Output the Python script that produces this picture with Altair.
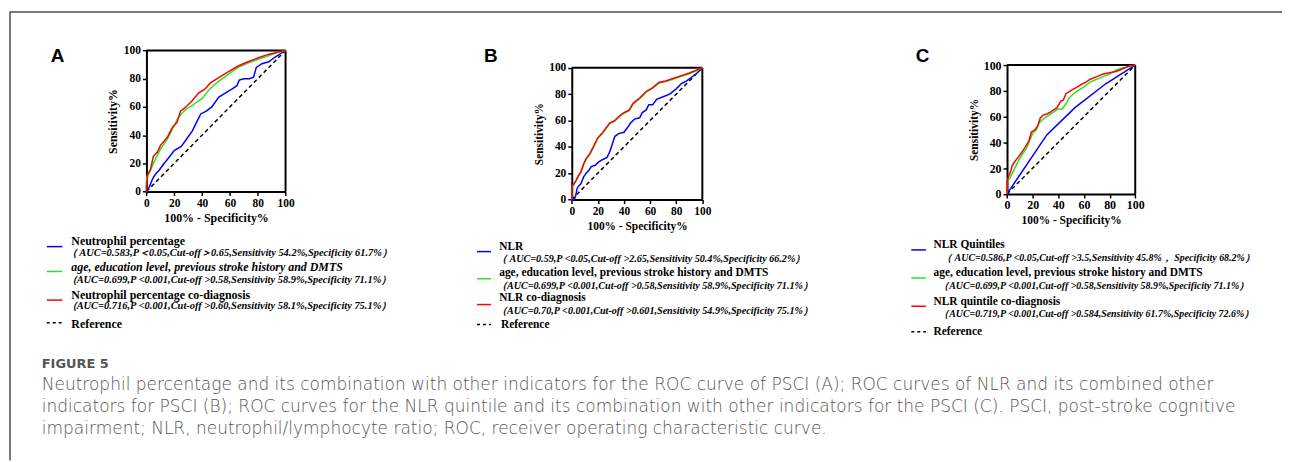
import altair as alt
import pandas as pd

# ---------------- data ----------------
TICKS = [0, 20, 40, 60, 80, 100]
REF_X = [0, 100]
REF_Y = [0, 100]

# Panel A
A_BLUE_X = [0, 2, 4, 5, 7, 9, 12, 16, 20, 25, 28, 33, 36, 39, 43, 47, 52, 57, 62, 65, 66.7, 70, 74, 77, 79, 83, 88, 92, 100]
A_BLUE_Y = [0, 3, 8, 10, 13, 15, 19, 24, 29, 32, 36, 43, 49, 55, 57, 60, 67, 70, 73, 75, 79, 80, 80, 81, 88, 90.6, 92, 95, 100]
A_GREEN_X = [0, 0, 0.5, 3, 5, 8, 10, 15, 19, 22, 25, 28, 33, 37, 40, 44, 48, 53, 60, 66, 73, 80, 87, 94, 100]
A_GREEN_Y = [0, 8, 11, 15, 20, 26, 30, 37, 45, 51, 55, 58, 61, 64, 66, 71, 75, 79, 84, 88, 91, 93.5, 96, 98.5, 100]
A_RED_X = [0, 0, 1, 3, 5, 7.9, 10, 15, 18.6, 22, 24.5, 28, 32.9, 37.6, 42, 46, 52, 59, 66, 73, 80.5, 87.6, 94.8, 100]
A_RED_Y = [0, 3, 12, 16, 25, 28, 32.6, 38.5, 45.5, 49, 57, 59.6, 64.3, 70, 72.5, 77, 80.8, 85, 89, 92, 94.8, 97.2, 99, 100]

# Panel B
B_BLUE_X = [0, 2, 3, 4, 5, 7, 9, 11, 13, 15, 18, 20, 23, 27, 29, 31, 33, 36, 40, 43, 45, 48, 52, 54, 57, 59, 62, 65, 70, 75, 80, 84, 88, 92, 96, 100]
B_BLUE_Y = [0, 0, 3, 8, 10, 12, 17, 20, 22, 25, 26, 28, 30, 32, 36, 42, 48, 50, 51, 55, 58, 61, 62, 66, 68, 72, 72, 76, 78, 80, 84, 88, 90, 93, 96, 100]
B_GREEN_X = [0, 0, 1, 3, 5, 7, 9, 11, 14, 17, 20, 23, 26, 29, 33, 36, 40, 44, 47, 52, 57, 62, 67, 72, 78, 84, 90, 95, 100]
B_GREEN_Y = [0, 9, 10.5, 13.5, 17.5, 20.5, 26, 30.5, 34.5, 40.5, 46.5, 49.5, 53.5, 57.5, 59.5, 62.5, 65.5, 67.5, 72.5, 76.5, 81.5, 84.5, 88.5, 89.5, 91.5, 93.5, 95.5, 97.5, 100]
B_RED_X = [0, 0, 1, 3, 5, 7, 9, 11, 14, 17, 20, 23, 26, 29, 33, 36, 40, 44, 47, 52, 57, 62, 67, 72, 78, 84, 90, 95, 100]
B_RED_Y = [0, 10, 11, 14, 18, 21, 27, 31, 35, 41, 47, 50, 54, 58, 60, 63, 66, 68, 73, 77, 82, 85, 89, 90, 92, 94, 96, 98, 100]

# Panel C
C_BLUE_X = [0, 31, 53, 77, 100]
C_BLUE_Y = [0, 45.8, 67, 85.5, 100]
C_GREEN_X = [0, 0, 2, 4, 6, 9, 12, 15, 18, 20, 23, 25, 28, 31, 34, 37, 40, 43, 46, 48, 51, 55, 60, 65, 70, 75, 80, 85, 90, 95, 100]
C_GREEN_Y = [0, 10, 12, 16, 20, 26, 31, 35, 42, 47, 50, 55, 58, 60, 62, 64, 66, 66, 70, 74, 77, 80, 83, 87, 89, 91, 93, 96, 98, 99, 100]
C_RED_X = [0, 0, 1, 3, 4, 6, 9, 12, 14, 17, 19, 22, 24, 25, 26, 28, 31, 33, 36, 39, 42, 44, 46, 48, 51, 55, 58, 62, 65, 70, 75, 80, 85, 90, 95, 100]
C_RED_Y = [0, 10, 13, 18, 22, 25, 29, 33, 36, 41, 48, 50, 53, 56, 59, 61, 62, 63, 65, 67, 72, 73, 78, 79, 81, 83, 85, 87, 89, 91, 93, 94, 95, 97, 99, 100]

# legend texts
A_MAIN = ["Neutrophil percentage", "age, education level, previous stroke history and DMTS",
          "Neutrophil percentage co-diagnosis", "Reference"]
A_SUB = ["（ AUC=0.583,P＜0.05,Cut-off＞0.65,Sensitivity 54.2%,Specificity 61.7%）",
         "（AUC=0.699,P <0.001,Cut-off >0.58,Sensitivity 58.9%,Specificity 71.1%）",
         "（AUC=0.716,P <0.001,Cut-off >0.60,Sensitivity 58.1%,Specificity 75.1%）"]
B_MAIN = ["NLR", "age, education level, previous stroke history and DMTS", "NLR co-diagnosis", "Reference"]
B_SUB = ["（ AUC=0.59,P <0.05,Cut-off >2.65,Sensitivity 50.4%,Specificity 66.2%）",
         "（AUC=0.699,P <0.001,Cut-off >0.58,Sensitivity 58.9%,Specificity 71.1%）",
         "（AUC=0.70,P <0.001,Cut-off >0.601,Sensitivity 54.9%,Specificity 75.1%）"]
C_MAIN = ["NLR Quintiles", "age, education level, previous stroke history and DMTS", "NLR quintile co-diagnosis", "Reference"]
C_SUB = ["（ AUC=0.586,P <0.05,Cut-off >3.5,Sensitivity 45.8%， Specificity 68.2%）",
         "（AUC=0.699,P <0.001,Cut-off >0.58,Sensitivity 58.9%,Specificity 71.1%）",
         "（AUC=0.719,P <0.001,Cut-off >0.584,Sensitivity 61.7%,Specificity 72.6%）"]

CAPTION_HEAD = "FIGURE 5"
CAPTION_LINES = [
    "Neutrophil percentage and its combination with other indicators for the ROC curve of PSCI (A); ROC curves of NLR and its combined other",
    "indicators for PSCI (B); ROC curves for the NLR quintile and its combination with other indicators for the PSCI (C). PSCI, post-stroke cognitive",
    "impairment; NLR, neutrophil/lymphocyte ratio; ROC, receiver operating characteristic curve.",
]

# ---------------- layout ----------------
W, H = 1282, 454
SERIF = "Liberation Serif"
BLUE, GREEN, RED = "#0000ff", "#22e622", "#ff0000"


def c(v):  # page pixel -> chart pixel
    return v - 8


def curve_df(xs, ys):
    return pd.DataFrame({"x": xs, "y": ys, "i": list(range(len(xs)))})


def panel(box, curves, lab_size, title_size, xtp, ytp):
    l, r, t, b = [c(v) for v in box]
    sx = alt.Scale(domain=[0, 100], range=[l, r], nice=False, zero=False)
    sy = alt.Scale(domain=[0, 100], range=[b, t], nice=False, zero=False)
    common = dict(values=TICKS, format="d", grid=False, domainColor="black", domainWidth=2,
                  tickColor="black", tickWidth=1.5, tickSize=4, labelFont=SERIF,
                  labelFontWeight="bold", labelFontSize=lab_size, labelColor="black",
                  labelPadding=2, labelFlush=False, labelOverlap=False, titleFont=SERIF,
                  titleFontWeight="bold", titleFontSize=title_size, titleColor="black")
    ax = alt.Axis(orient="bottom", offset=b - H, title="100% - Specificity%", titlePadding=xtp, **common)
    ay = alt.Axis(orient="left", offset=-l, title="Sensitivity%", titlePadding=ytp, **common)
    X = alt.X("x:Q", scale=sx, axis=ax)
    Y = alt.Y("y:Q", scale=sy, axis=ay)
    box_df = pd.DataFrame({"x": [0, 100], "x2": [100, 100], "y": [100, 0], "y2": [100, 100]})
    layers = [
        alt.Chart(box_df).mark_rule(color="black", strokeWidth=2).encode(x=X, x2="x2:Q", y=Y, y2="y2:Q"),
        alt.Chart(curve_df(REF_X, REF_Y)).mark_line(color="black", strokeDash=[4, 3], strokeWidth=1.5)
        .encode(x=X, y=Y, order="i:Q"),
    ]
    for xs, ys, col in curves:
        layers.append(alt.Chart(curve_df(xs, ys)).mark_line(color=col, strokeWidth=1.5)
                      .encode(x=X, y=Y, order="i:Q"))
    return alt.layer(*layers)


def texts(rows, size, weight="bold", style="normal", font=SERIF, color="black"):
    df = pd.DataFrame(rows, columns=["t", "px", "py"])
    df["px"] = df["px"].map(c)
    df["py"] = df["py"].map(c)
    return alt.Chart(df).mark_text(align="left", baseline="middle", font=font, fontSize=size,
                                   fontWeight=weight, fontStyle=style, color=color).encode(
        x=alt.X("px:Q", scale=None, axis=None), y=alt.Y("py:Q", scale=None, axis=None), text="t:N")


def swatches(rows, dashed=False):
    df = pd.DataFrame(rows, columns=["px", "px2", "py", "col"])
    for k in ["px", "px2", "py"]:
        df[k] = df[k].map(c)
    kw = dict(strokeWidth=1.5)
    if dashed:
        kw["strokeDash"] = [3, 3]
    return alt.Chart(df).mark_rule(**kw).encode(
        x=alt.X("px:Q", scale=None, axis=None), x2="px2:Q",
        y=alt.Y("py:Q", scale=None, axis=None), color=alt.Color("col:N", scale=None))


pA = panel((147.3, 287.3, 49.3, 191.3),
           [(A_BLUE_X, A_BLUE_Y, BLUE), (A_GREEN_X, A_GREEN_Y, GREEN), (A_RED_X, A_RED_Y, RED)],
           11.5, 12, 4, 4)
pB = panel((575.3, 706.7, 66.7, 199.3),
           [(B_BLUE_X, B_BLUE_Y, BLUE), (B_GREEN_X, B_GREEN_Y, GREEN), (B_RED_X, B_RED_Y, RED)],
           11.5, 11.5, 4, 4)
pC = panel((1013.3, 1142.3, 64, 193.7),
           [(C_BLUE_X, C_BLUE_Y, BLUE), (C_GREEN_X, C_GREEN_Y, GREEN), (C_RED_X, C_RED_Y, RED)],
           12, 11.5, 4, 4)

letters = texts([("A", 51, 55), ("B", 487, 55), ("C", 921.5, 54.5)], 19, font="Liberation Sans")

# legends
legA_main = texts([(A_MAIN[0], 71.7, 241), (A_MAIN[2], 71.7, 295), (A_MAIN[3], 71.7, 324.3)], 12)
legA_main_i = texts([(A_MAIN[1], 71.7, 267.7)], 12, style="italic")
legA_sub = texts([(A_SUB[0], 67, 253.3), (A_SUB[1], 67, 280), (A_SUB[2], 67, 306.7)], 10.5, style="italic")
swA = swatches([(47, 62.7, 246.7, BLUE), (47, 62.7, 271.7, GREEN), (47, 62.7, 300.5, RED)])
swA_d = swatches([(47, 63, 323.3, "black")], dashed=True)

legB_main = texts([(B_MAIN[0], 502.3, 246.7), (B_MAIN[1], 502.3, 273.3), (B_MAIN[2], 502.3, 298.3),
                   (B_MAIN[3], 504, 326)], 11.5)
legB_sub = texts([(B_SUB[0], 500, 259), (B_SUB[1], 500, 286), (B_SUB[2], 500, 311)], 10.2, style="italic")
swB = swatches([(480, 494, 251.7, BLUE), (480, 494, 279, GREEN), (480, 494, 305, RED)])
swB_d = swatches([(480, 494, 325, "black")], dashed=True)

legC_main = texts([(C_MAIN[0], 939.3, 245), (C_MAIN[1], 939.3, 273.3), (C_MAIN[2], 939.3, 302.3),
                   (C_MAIN[3], 939.3, 332.7)], 11.5)
legC_sub = texts([(C_SUB[0], 948, 258.3), (C_SUB[1], 945, 286), (C_SUB[2], 945, 315)], 10, style="italic")
swC = swatches([(917, 931.7, 250, BLUE), (917, 931.7, 278.3, GREEN), (917, 931.7, 306.7, RED)])
swC_d = swatches([(917, 931.7, 332.3, "black")], dashed=True)

# frame (top and left edges)
frame_df = pd.DataFrame({"px": [c(10), c(10)], "px2": [W, c(10)], "py": [c(10.5), c(10)], "py2": [c(10.5), H]})
frame = alt.Chart(frame_df).mark_rule(color="#4d4d4d", strokeWidth=1.5).encode(
    x=alt.X("px:Q", scale=None, axis=None), x2="px2:Q",
    y=alt.Y("py:Q", scale=None, axis=None), y2="py2:Q")

cap_head = texts([(CAPTION_HEAD, 42, 364.5)], 13, weight=600, font="DejaVu Sans", color="#555555")
cap_body = texts([(CAPTION_LINES[0], 42, 385.5), (CAPTION_LINES[1], 42, 408), (CAPTION_LINES[2], 42, 430)],
                 17.1, weight=200, font="DejaVu Sans", color="#555555")

chart = alt.layer(
    frame, pA, pB, pC, letters,
    legA_main, legA_main_i, legA_sub, swA, swA_d,
    legB_main, legB_sub, swB, swB_d,
    legC_main, legC_sub, swC, swC_d,
    cap_head, cap_body,
).resolve_scale(x="independent", y="independent").properties(
    width=W, height=H, autosize=alt.AutoSizeParams(type="none"), padding=0,
    background="white",
).configure_view(stroke=None)

chart.save("out.html", embed_options={"renderer": "svg", "actions": False})
